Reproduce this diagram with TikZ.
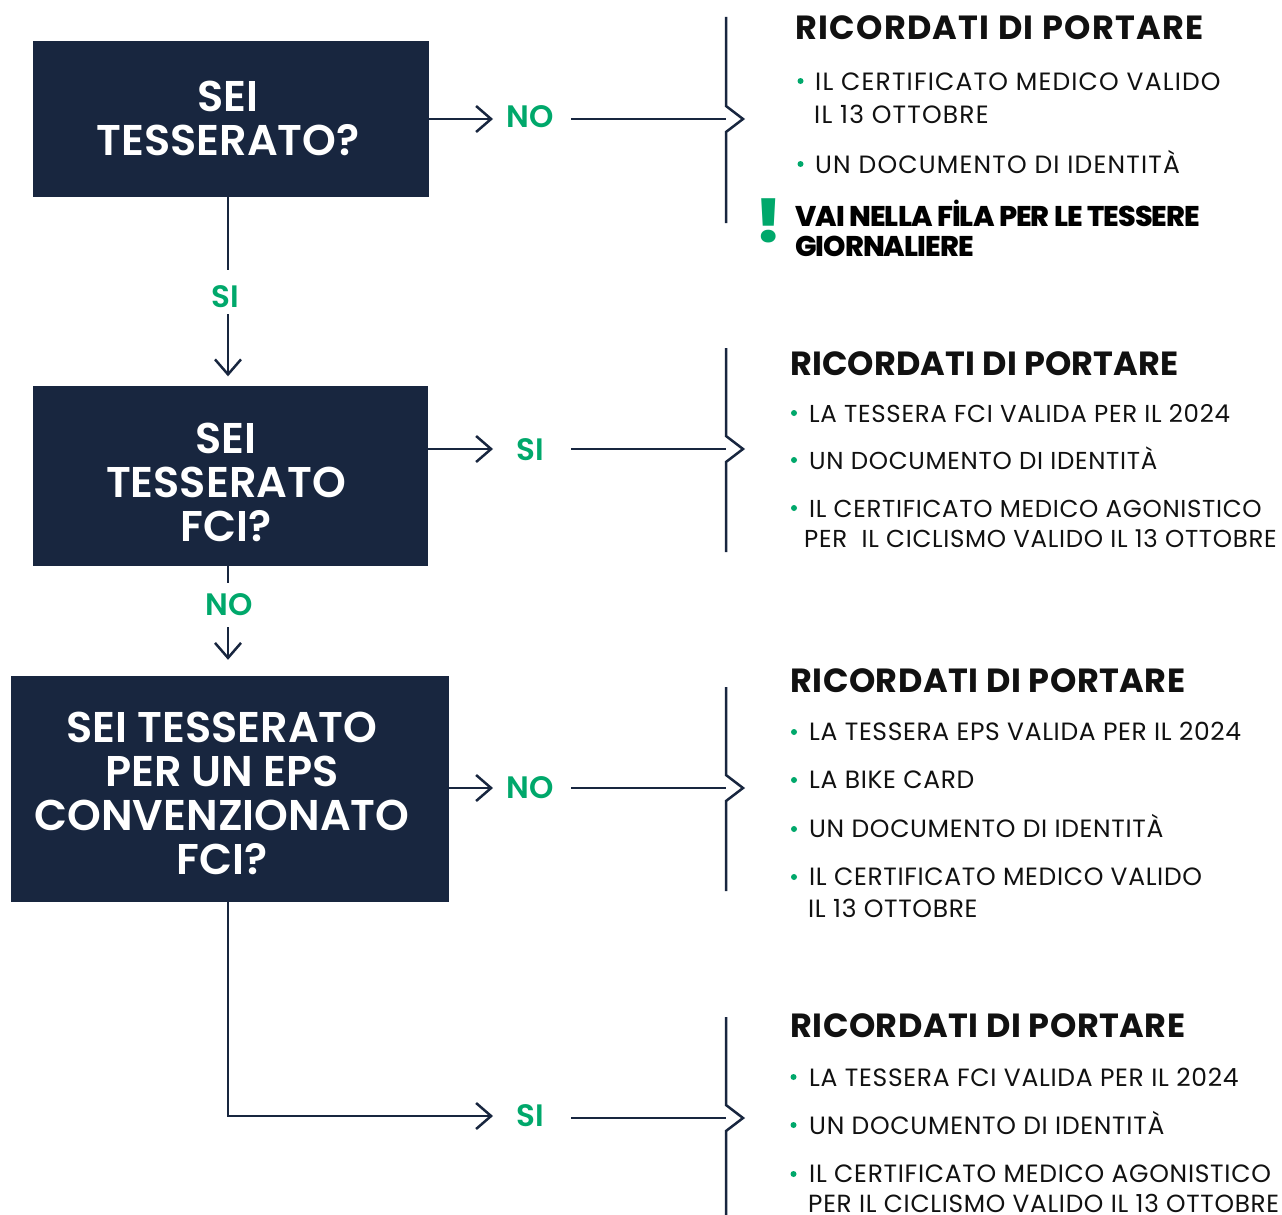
\documentclass[tikz,border=0pt]{standalone}
\usepackage{fontspec}
\setmainfont{Poppins}
\newfontfamily\popR{Poppins}
\newfontfamily\popRa{Poppins}[LetterSpace=4.7]
\newfontfamily\popRb{Poppins}[LetterSpace=2.8]
\newfontfamily\popRc{Poppins}[LetterSpace=2.6]
\newfontfamily\popSB{Poppins SemiBold}
\newfontfamily\popHa{Poppins Bold}[LetterSpace=3.9]
\newfontfamily\popHb{Poppins Bold}[LetterSpace=0.4]
\newfontfamily\popHc{Poppins Bold}[LetterSpace=1.6]
\newfontfamily\popXB{Poppins ExtraBold}[LetterSpace=-3.3]
\newfontfamily\popBK{Poppins Black}
\usetikzlibrary{arrows.meta}
\definecolor{navy}{HTML}{18263F}
\definecolor{ggreen}{HTML}{00A86B}
\definecolor{ink}{HTML}{111111}
\begin{document}
\begin{tikzpicture}[x=1pt,y=-1pt,
  qbox/.style={fill=navy, inner sep=0pt},
  qtext/.style={text=white, inner sep=0pt, align=center, font=\popSB\fontsize{43}{44}\selectfont},
  lbl/.style={text=ggreen, inner sep=0pt, font=\popSB\fontsize{31}{31}\selectfont},
  conn/.style={draw=navy, line width=2.5pt},
  arr/.style={conn, -{Straight Barb[length=15pt,width=26pt,line width=2.5pt]}},
  head/.style={anchor=base west, inner sep=0pt, text=ink},
  headA/.style={head, font=\popHa\fontsize{33.5}{33.5}\selectfont},
  headB/.style={head, font=\popHb\fontsize{33.5}{33.5}\selectfont},
  headC/.style={head, font=\popHc\fontsize{33.5}{33.5}\selectfont},
  itm/.style={anchor=base west, inner sep=0pt, text=ink},
  itmA/.style={itm, font=\popRa\fontsize{25}{25}\selectfont},
  itmB/.style={itm, font=\popRb\fontsize{24.5}{24.5}\selectfont},
  itmC/.style={itm, font=\popRc\fontsize{25}{25}\selectfont},
  bul/.style={circle, fill=ggreen, inner sep=0pt, minimum size=6pt},
  warn/.style={anchor=base west, inner sep=0pt, text=black, font=\popXB\fontsize{28.5}{28.5}\selectfont},
]
\useasboundingbox (0,0) rectangle (1282,1215);
\fill[white] (0,0) rectangle (1282,1215);

% question boxes
\node[qbox, minimum width=396pt, minimum height=156pt] (q1) at (231,119) {};
\node[qbox, minimum width=395pt, minimum height=180pt] (q2) at (230.5,476) {};
\node[qbox, minimum width=438pt, minimum height=226pt] (q3) at (230,789) {};
\node[qtext] (t1) at (228,118.5) {SEI\\TESSERATO?};
\node[qtext] (t2) at (226,482) {SEI\\TESSERATO\\FCI?};
\node[qtext] (t3) at (222,793) {SEI TESSERATO\\PER UN EPS\\CONVENZIONATO\\FCI?};

% helper coordinates
\coordinate (tipc) at (493,0);
\coordinate (startc) at (571,0);
\coordinate (bx) at (726,0);
\coordinate (a2) at (428,449);
\coordinate (a3) at (449,788);
\coordinate (a4) at (228,1116);
\coordinate (a4r) at (571,1118);

% labels
\node[lbl] (si1) at (225,297) {SI};
\node[lbl] (no2) at (229,605) {NO};
\node[lbl] (no1) at (530.5,117) {NO};
\node[lbl] (si2) at (530,450) {SI};
\node[lbl] (no3) at (530.5,788) {NO};
\node[lbl] (si4) at (530,1116) {SI};

% vertical connectors
\draw[conn, shorten >=16pt] (q1.south -| a4) -- (a4 |- si1.north);
\draw[arr, shorten <=6pt, shorten >=9.5pt] (a4 |- si1.south) -- (q2.north -| a4);
\draw[conn, shorten >=11pt] (q2.south -| a4) -- (a4 |- no2.north);
\draw[arr, shorten <=11pt, shorten >=16pt] (a4 |- no2.south) -- (q3.north -| a4);

% horizontal connectors
\draw[arr] (q1.east) -- (q1.east -| tipc);
\draw[conn] (q1.east -| startc) -- (q1.east -| bx);
\draw[arr] (a2) -- (a2 -| tipc);
\draw[conn] (a2 -| startc) -- (a2 -| bx);
\draw[arr] (a3) -- (a3 -| tipc);
\draw[conn] (a3 -| startc) -- (a3 -| bx);
\draw[arr] (q3.south -| a4) -- (a4) -- (a4 -| tipc);
\draw[conn] (a4r) -- (a4r -| bx);

% braces
\draw[conn] (726,17) -- (726,106) -- (743,119) -- (726,132) -- (726,223);
\draw[conn] (726,348) -- (726,436) -- (743,449) -- (726,462) -- (726,552);
\draw[conn] (726,687) -- (726,775) -- (743,788) -- (726,801) -- (726,891);
\draw[conn] (726,1017) -- (726,1105) -- (743,1118) -- (726,1131) -- (726,1217);

% section 1
\node[headA] (h1) at (795,40) {RICORDATI DI PORTARE};
\node[bul] (d11) at (800.5,81) {};
\node[itmA] (i11) at (815,90) {IL CERTIFICATO MEDICO VALIDO};
\node[itmA] (i11b) at (814,123) {IL 13 OTTOBRE};
\node[bul] (d12) at (800.5,164) {};
\node[itmA] (i12) at (815,173) {UN DOCUMENTO DI IDENTITÀ};
\node[anchor=base, inner sep=0pt, text=ggreen, font=\popBK\fontsize{58}{58}\selectfont] (ex) at (769,242) {!};
\node[warn] (v1) at (795,226.5) {VAI NELLA FİLA PER LE TESSERE};
\node[warn] (v2) at (795,256) {GIORNALIERE};

% section 2
\node[headB] (h2) at (790,375) {RICORDATI DI PORTARE};
\node[bul] (d21) at (794,413) {};
\node[itmB] (i21) at (809,422) {LA TESSERA FCI VALIDA PER IL 2024};
\node[bul] (d22) at (794,460) {};
\node[itmB] (i22) at (809,469) {UN DOCUMENTO DI IDENTITÀ};
\node[bul] (d23) at (794,508) {};
\node[itmB] (i23) at (809,517) {IL CERTIFICATO MEDICO AGONISTICO};
\node[itmB] (i23b) at (804,547) {PER\ \ IL CICLISMO VALIDO IL 13 OTTOBRE};

% section 3
\node[headC] (h3) at (790,692) {RICORDATI DI PORTARE};
\node[bul] (d31) at (794,732) {};
\node[itmC] (i31) at (809,740.5) {LA TESSERA EPS VALIDA PER IL 2024};
\node[bul] (d32) at (794,780) {};
\node[itmC] (i32) at (809,788.5) {LA BIKE CARD};
\node[bul] (d33) at (794,829) {};
\node[itmC] (i33) at (809,837.5) {UN DOCUMENTO DI IDENTITÀ};
\node[bul] (d34) at (794,877) {};
\node[itmC] (i34) at (809,885.5) {IL CERTIFICATO MEDICO VALIDO};
\node[itmC] (i34b) at (808,917.5) {IL 13 OTTOBRE};

% section 4
\node[headC] (h4) at (790,1037) {RICORDATI DI PORTARE};
\node[bul] (d41) at (793.5,1077) {};
\node[itm, font=\popRb\fontsize{25}{25}\selectfont] (i41) at (809,1086) {LA TESSERA FCI VALIDA PER IL 2024};
\node[bul] (d42) at (793.5,1125) {};
\node[itm, font=\popRb\fontsize{25}{25}\selectfont] (i42) at (809,1134) {UN DOCUMENTO DI IDENTITÀ};
\node[bul] (d43) at (793.5,1174) {};
\node[itm, font=\popRb\fontsize{25}{25}\selectfont] (i43) at (809,1182.5) {IL CERTIFICATO MEDICO AGONISTICO};
\node[itm, font=\popRb\fontsize{24.8}{24.8}\selectfont] (i43b) at (808,1212.5) {PER IL CICLISMO VALIDO IL 13 OTTOBRE};
\end{tikzpicture}
\end{document}
